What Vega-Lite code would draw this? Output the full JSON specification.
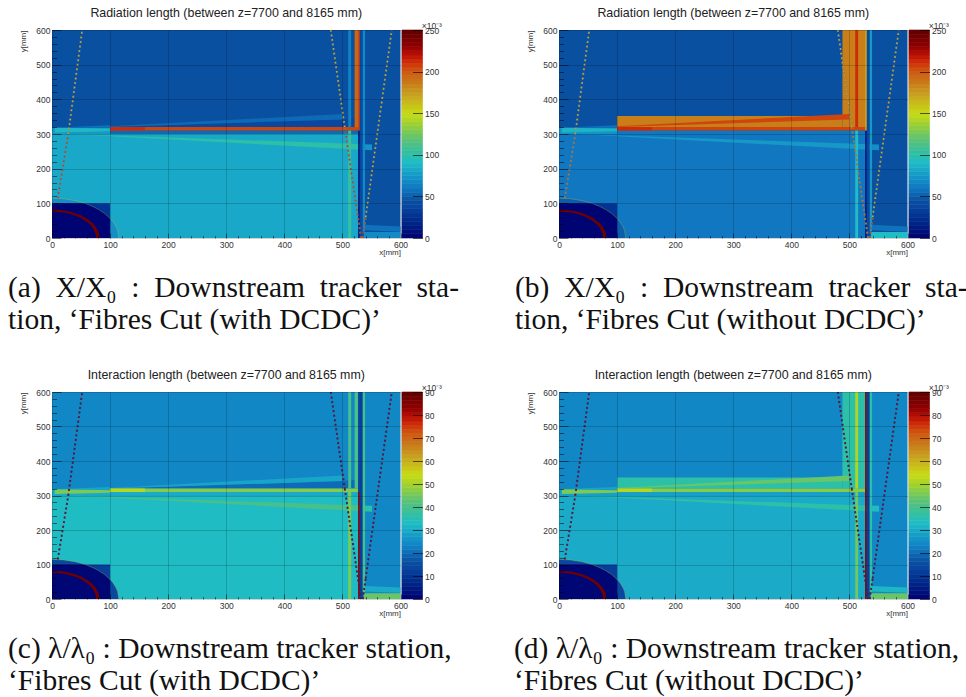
{"$schema":"https://vega.github.io/schema/vega-lite/v6.json","padding":{"left":8,"top":6,"right":0,"bottom":0},"background":"white",
"config":{"view":{"stroke":null},"font":"Liberation Sans","axis":{"labelFont":"Liberation Sans","titleFont":"Liberation Sans","labelColor":"#333","titleColor":"#333","labelFontSize":8.5,"titleFontSize":8,"titleFontWeight":"normal","labelFlush":false,"labelOverlap":false,"labelBound":false,"domain":false}},
"datasets":{
"back":[{"x":0,"x2":600,"y":0,"y2":600,"a":45,"b":45,"c":24,"d":24},{"x":0,"x2":527,"y":0,"y2":300,"a":82,"b":60,"c":33,"d":30},{"x":0,"x2":100,"y":300,"y2":318,"a":75,"b":72,"c":30,"d":28},{"x":100,"x2":527,"y":300,"y2":310,"a":55,"b":60,"c":30,"d":28},{"x":100,"x2":488,"y":320,"y2":352,"b":185,"d":36},{"x":488,"x2":530,"y":320,"y2":600,"b":185,"d":36}],
"wedge":[{"id":"w1","x":30,"y":300,"y2":300,"a":100,"b":75,"c":40,"d":36},{"id":"w1","x":527,"y":271.3,"y2":255,"a":100,"b":75,"c":40,"d":36},{"id":"w7","x":527,"y":271.3,"y2":255,"a":72,"b":70,"c":36,"d":33},{"id":"w7","x":551,"y":270,"y2":253,"a":72,"b":70,"c":36,"d":33},{"id":"w3","x":100,"y":320,"y2":320,"a":38,"c":20},{"id":"w3","x":500,"y":342,"y2":320,"a":38,"c":20},{"id":"w3","x":522,"y":345,"y2":320,"a":38,"c":20},{"id":"w2","x":100,"y":322,"y2":320,"a":55,"b":205,"c":29,"d":44},{"id":"w2","x":500,"y":358,"y2":342,"a":55,"b":205,"c":29,"d":44},{"id":"w5","x":0,"y":318,"y2":318,"a":58,"b":58,"c":29,"d":29},{"id":"w5","x":100,"y":325,"y2":318,"a":58,"b":58,"c":29,"d":29},{"id":"w4","x":5,"y":318,"y2":304,"a":90,"b":88,"c":46,"d":46},{"id":"w4","x":100,"y":315,"y2":308,"a":90,"b":88,"c":46,"d":46},{"id":"w6","x":537,"y":38,"y2":22,"a":58,"b":58,"c":30,"d":32},{"id":"w6","x":600,"y":33,"y2":18,"a":58,"b":58,"c":30,"d":32}],
"front":[{"x":100,"x2":527,"y":310,"y2":320,"a":205,"b":205,"c":47,"d":47},{"x":100,"x2":160,"y":310,"y2":320,"a":212,"b":212,"c":52,"d":52},{"x":510,"x2":515,"y":320,"y2":600,"a":65,"b":212,"c":40,"d":51},{"x":510,"x2":515,"y":0,"y2":310,"a":105,"b":92,"c":46,"d":45},{"x":521,"x2":528,"y":320,"y2":600,"a":195,"c":40},{"x":527,"x2":530,"y":0,"y2":310,"a":15,"b":15,"c":84,"d":84},{"x":527,"x2":530,"y":310,"y2":600,"a":205,"b":172,"c":12,"d":84},{"x":530,"x2":535,"y":0,"y2":600,"a":40,"b":40,"c":12,"d":12},{"x":535,"x2":539,"y":20,"y2":600,"a":68,"b":75,"c":40,"d":36},{"x":537,"x2":600,"y":0,"y2":17,"a":68,"b":92,"c":44,"d":44}],
"disc":[
{"id":"d1","x":0,"y":115,"y2":0,"a":70,"b":50,"c":14,"d":14},{"id":"d1","x":20,"y":113.2,"y2":0,"a":70,"b":50,"c":14,"d":14},{"id":"d1","x":40,"y":107.8,"y2":0,"a":70,"b":50,"c":14,"d":14},{"id":"d1","x":57,"y":99.9,"y2":0,"a":70,"b":50,"c":14,"d":14},{"id":"d1","x":70,"y":91.2,"y2":0,"a":70,"b":50,"c":14,"d":14},{"id":"d1","x":80,"y":82.6,"y2":0,"a":70,"b":50,"c":14,"d":14},{"id":"d1","x":90,"y":71.6,"y2":0,"a":70,"b":50,"c":14,"d":14},{"id":"d1","x":100,"y":56.8,"y2":0,"a":70,"b":50,"c":14,"d":14},{"id":"d1","x":105,"y":46.9,"y2":0,"a":70,"b":50,"c":14,"d":14},{"id":"d1","x":110,"y":33.5,"y2":0,"a":70,"b":50,"c":14,"d":14},{"id":"d1","x":113,"y":21.4,"y2":0,"a":70,"b":50,"c":14,"d":14},{"id":"d1","x":115,"y":0,"y2":0,"a":70,"b":50,"c":14,"d":14},
{"id":"d2","x":0,"y":100,"y2":0,"a":28,"b":28,"c":12,"d":12},{"id":"d2","x":100,"y":100,"y2":0,"a":28,"b":28,"c":12,"d":12},
{"id":"d3","x":0,"y":100,"y2":0,"a":2,"b":2,"c":1,"d":1},{"id":"d3","x":57,"y":100,"y2":0,"a":2,"b":2,"c":1,"d":1},{"id":"d3","x":70,"y":91.2,"y2":0,"a":2,"b":2,"c":1,"d":1},{"id":"d3","x":80,"y":82.6,"y2":0,"a":2,"b":2,"c":1,"d":1},{"id":"d3","x":90,"y":71.6,"y2":0,"a":2,"b":2,"c":1,"d":1},{"id":"d3","x":100,"y":56.8,"y2":0,"a":2,"b":2,"c":1,"d":1},
{"id":"d4","x":0,"y":82,"y2":76,"a":245,"b":245,"c":88,"d":88},{"id":"d4","x":10,"y":81.4,"y2":75.3,"a":245,"b":245,"c":88,"d":88},{"id":"d4","x":20,"y":79.5,"y2":73.3,"a":245,"b":245,"c":88,"d":88},{"id":"d4","x":30,"y":76.3,"y2":69.8,"a":245,"b":245,"c":88,"d":88},{"id":"d4","x":40,"y":71.6,"y2":64.6,"a":245,"b":245,"c":88,"d":88},{"id":"d4","x":50,"y":65,"y2":57.2,"a":245,"b":245,"c":88,"d":88},{"id":"d4","x":60,"y":55.9,"y2":46.6,"a":245,"b":245,"c":88,"d":88},{"id":"d4","x":65,"y":50,"y2":39.4,"a":245,"b":245,"c":88,"d":88},{"id":"d4","x":70,"y":42.7,"y2":29.6,"a":245,"b":245,"c":88,"d":88},{"id":"d4","x":75,"y":33.2,"y2":12.3,"a":245,"b":245,"c":88,"d":88},{"id":"d4","x":76,"y":30,"y2":0,"a":245,"b":245,"c":88,"d":88},{"id":"d4","x":80,"y":18,"y2":0,"a":245,"b":245,"c":88,"d":88},{"id":"d4","x":82,"y":0,"y2":0,"a":245,"b":245,"c":88,"d":88}],
"arc":[{"x":0,"y":115},{"x":20,"y":113.2},{"x":40,"y":107.8},{"x":57,"y":99.9},{"x":70,"y":91.2},{"x":80,"y":82.6},{"x":90,"y":71.6},{"x":100,"y":56.8},{"x":105,"y":46.9},{"x":110,"y":33.5},{"x":113,"y":21.4},{"x":115,"y":0}],
"dots":[{"id":"l1u","x":28,"y":300,"a":165,"b":165,"c":82,"d":82},{"id":"l1u","x":52,"y":600,"a":165,"b":165,"c":82,"d":82},{"id":"l1l","x":10,"y":115,"a":210,"b":190,"c":82,"d":82},{"id":"l1l","x":28,"y":300,"a":210,"b":190,"c":82,"d":82},{"id":"l2u","x":480,"y":600,"a":165,"b":165,"c":82,"d":82},{"id":"l2u","x":504,"y":320,"a":165,"b":165,"c":82,"d":82},{"id":"l2l","x":504,"y":320,"a":210,"b":190,"c":82,"d":82},{"id":"l2l","x":532,"y":0,"a":210,"b":190,"c":82,"d":82},{"id":"l3u","x":540,"y":60,"a":165,"b":165,"c":82,"d":82},{"id":"l3u","x":585,"y":600,"a":165,"b":165,"c":82,"d":82},{"id":"l3l","x":535,"y":0,"a":210,"b":210,"c":82,"d":82},{"id":"l3l","x":540,"y":60,"a":210,"b":210,"c":82,"d":82}],
"bar250":[{"z0":0,"z1":5,"v":2.5},{"z0":5,"z1":10,"v":7.5},{"z0":10,"z1":15,"v":12.5},{"z0":15,"z1":20,"v":17.5},{"z0":20,"z1":25,"v":22.5},{"z0":25,"z1":30,"v":27.5},{"z0":30,"z1":35,"v":32.5},{"z0":35,"z1":40,"v":37.5},{"z0":40,"z1":45,"v":42.5},{"z0":45,"z1":50,"v":47.5},{"z0":50,"z1":55,"v":52.5},{"z0":55,"z1":60,"v":57.5},{"z0":60,"z1":65,"v":62.5},{"z0":65,"z1":70,"v":67.5},{"z0":70,"z1":75,"v":72.5},{"z0":75,"z1":80,"v":77.5},{"z0":80,"z1":85,"v":82.5},{"z0":85,"z1":90,"v":87.5},{"z0":90,"z1":95,"v":92.5},{"z0":95,"z1":100,"v":97.5},{"z0":100,"z1":105,"v":102.5},{"z0":105,"z1":110,"v":107.5},{"z0":110,"z1":115,"v":112.5},{"z0":115,"z1":120,"v":117.5},{"z0":120,"z1":125,"v":122.5},{"z0":125,"z1":130,"v":127.5},{"z0":130,"z1":135,"v":132.5},{"z0":135,"z1":140,"v":137.5},{"z0":140,"z1":145,"v":142.5},{"z0":145,"z1":150,"v":147.5},{"z0":150,"z1":155,"v":152.5},{"z0":155,"z1":160,"v":157.5},{"z0":160,"z1":165,"v":162.5},{"z0":165,"z1":170,"v":167.5},{"z0":170,"z1":175,"v":172.5},{"z0":175,"z1":180,"v":177.5},{"z0":180,"z1":185,"v":182.5},{"z0":185,"z1":190,"v":187.5},{"z0":190,"z1":195,"v":192.5},{"z0":195,"z1":200,"v":197.5},{"z0":200,"z1":205,"v":202.5},{"z0":205,"z1":210,"v":207.5},{"z0":210,"z1":215,"v":212.5},{"z0":215,"z1":220,"v":217.5},{"z0":220,"z1":225,"v":222.5},{"z0":225,"z1":230,"v":227.5},{"z0":230,"z1":235,"v":232.5},{"z0":235,"z1":240,"v":237.5},{"z0":240,"z1":245,"v":242.5},{"z0":245,"z1":250,"v":247.5}],
"bar90":[{"z0":0,"z1":1.8,"v":0.9},{"z0":1.8,"z1":3.6,"v":2.7},{"z0":3.6,"z1":5.4,"v":4.5},{"z0":5.4,"z1":7.2,"v":6.3},{"z0":7.2,"z1":9,"v":8.1},{"z0":9,"z1":10.8,"v":9.9},{"z0":10.8,"z1":12.6,"v":11.7},{"z0":12.6,"z1":14.4,"v":13.5},{"z0":14.4,"z1":16.2,"v":15.3},{"z0":16.2,"z1":18,"v":17.1},{"z0":18,"z1":19.8,"v":18.9},{"z0":19.8,"z1":21.6,"v":20.7},{"z0":21.6,"z1":23.4,"v":22.5},{"z0":23.4,"z1":25.2,"v":24.3},{"z0":25.2,"z1":27,"v":26.1},{"z0":27,"z1":28.8,"v":27.9},{"z0":28.8,"z1":30.6,"v":29.7},{"z0":30.6,"z1":32.4,"v":31.5},{"z0":32.4,"z1":34.2,"v":33.3},{"z0":34.2,"z1":36,"v":35.1},{"z0":36,"z1":37.8,"v":36.9},{"z0":37.8,"z1":39.6,"v":38.7},{"z0":39.6,"z1":41.4,"v":40.5},{"z0":41.4,"z1":43.2,"v":42.3},{"z0":43.2,"z1":45,"v":44.1},{"z0":45,"z1":46.8,"v":45.9},{"z0":46.8,"z1":48.6,"v":47.7},{"z0":48.6,"z1":50.4,"v":49.5},{"z0":50.4,"z1":52.2,"v":51.3},{"z0":52.2,"z1":54,"v":53.1},{"z0":54,"z1":55.8,"v":54.9},{"z0":55.8,"z1":57.6,"v":56.7},{"z0":57.6,"z1":59.4,"v":58.5},{"z0":59.4,"z1":61.2,"v":60.3},{"z0":61.2,"z1":63,"v":62.1},{"z0":63,"z1":64.8,"v":63.9},{"z0":64.8,"z1":66.6,"v":65.7},{"z0":66.6,"z1":68.4,"v":67.5},{"z0":68.4,"z1":70.2,"v":69.3},{"z0":70.2,"z1":72,"v":71.1},{"z0":72,"z1":73.8,"v":72.9},{"z0":73.8,"z1":75.6,"v":74.7},{"z0":75.6,"z1":77.4,"v":76.5},{"z0":77.4,"z1":79.2,"v":78.3},{"z0":79.2,"z1":81,"v":80.1},{"z0":81,"z1":82.8,"v":81.9},{"z0":82.8,"z1":84.6,"v":83.7},{"z0":84.6,"z1":86.4,"v":85.5},{"z0":86.4,"z1":88.2,"v":87.3},{"z0":88.2,"z1":90,"v":89.1}]
},
"resolve":{"scale":{"color":"independent","stroke":"independent"}},
"spacing":33,
"vconcat":[
{"resolve":{"scale":{"color":"independent","stroke":"independent"}},"spacing":56,"hconcat":[
{"spacing":16,"vconcat":[{"spacing":1,"bounds":"flush","hconcat":[
{"width":348.5,"height":208,"title":{"text":"Radiation length (between z=7700 and 8165 mm)","fontSize":12.4,"font":"Liberation Sans","fontWeight":"normal","color":"#222","offset":7},"resolve":{"axis":{"x":"independent","y":"independent"}},
"layer":[
{"data":{"name":"back"},"transform":[{"filter":"datum.a!=null"}],"mark":"rect","encoding":{"x":{"field":"x","type":"quantitative","scale":{"domain":[0,600],"nice":false},"axis":{"orient":"bottom","values":[0,100,200,300,400,500,600],"tickSize":-5,"labelPadding":7,"tickColor":"#000","tickOpacity":0.5,"grid":true,"gridColor":"#000","gridOpacity":0.22,"gridWidth":0.8,"zindex":1,"title":"x[mm]","titleAnchor":"end","titlePadding":0}},"x2":{"field":"x2"},"y":{"field":"y","type":"quantitative","scale":{"domain":[0,600],"nice":false},"axis":{"orient":"left","values":[0,100,200,300,400,500,600],"tickSize":-9,"labelPadding":11,"tickColor":"#000","tickOpacity":0.5,"grid":true,"gridColor":"#000","gridOpacity":0.22,"gridWidth":0.8,"zindex":1,"title":"y[mm]","titleAnchor":"end","titlePadding":8}},"y2":{"field":"y2"},"color":{"field":"a","type":"quantitative","legend":null,"scale":{"interpolate":"rgb","domain":[0,12.5,25,37.5,45,60,67.5,82.5,92.5,100,112.5,125,137.5,150,160,175,187.5,200,212.5,220,230,250],"range":["#000070","#001a80","#00308f","#0a46a0","#0a50a0","#1077c0","#1289c6","#1aa9c8","#20bec4","#2cc0a8","#4cc088","#70c860","#a0d030","#c8dc14","#c8c018","#c89a20","#c87818","#d05810","#cc2a08","#bb1005","#900000","#600000"]}}}},
{"data":{"name":"wedge"},"transform":[{"filter":"datum.a!=null"}],"mark":{"type":"area","line":false},"encoding":{"x":{"field":"x","type":"quantitative","axis":null},"y":{"field":"y","type":"quantitative","axis":null},"y2":{"field":"y2"},"detail":{"field":"id"},"color":{"field":"a","type":"quantitative","legend":null}}},
{"data":{"name":"front"},"transform":[{"filter":"datum.a!=null"}],"mark":"rect","encoding":{"x":{"field":"x","type":"quantitative","axis":null},"x2":{"field":"x2"},"y":{"field":"y","type":"quantitative","axis":null},"y2":{"field":"y2"},"color":{"field":"a","type":"quantitative","legend":null}}},
{"data":{"name":"disc"},"transform":[{"filter":"datum.a!=null"}],"mark":{"type":"area","line":false},"encoding":{"x":{"field":"x","type":"quantitative","axis":null},"y":{"field":"y","type":"quantitative","axis":null},"y2":{"field":"y2"},"detail":{"field":"id"},"color":{"field":"a","type":"quantitative","legend":null}}},
{"data":{"name":"arc"},"mark":{"type":"line","color":"#b8c040","strokeWidth":0.5,"opacity":0.7},"encoding":{"x":{"field":"x","type":"quantitative","axis":null},"y":{"field":"y","type":"quantitative","axis":null}}},
{"data":{"name":"dots"},"mark":{"type":"line","color":"#777777","strokeWidth":2,"strokeDash":[2,2.6]},"encoding":{"x":{"field":"x","type":"quantitative","axis":null},"y":{"field":"y","type":"quantitative","axis":null},"detail":{"field":"id"}}},
{"data":{"name":"dots"},"mark":{"type":"line","strokeWidth":1.3,"strokeDash":[1.3,3.3]},"encoding":{"x":{"field":"x","type":"quantitative","axis":{"orient":"bottom","values":[20,40,60,80,120,140,160,180,220,240,260,280,320,340,360,380,420,440,460,480,520,540,560,580],"labels":false,"tickSize":-2.5,"tickColor":"#000","tickOpacity":0.5,"grid":false,"zindex":1,"title":null}},"y":{"field":"y","type":"quantitative","axis":{"orient":"left","values":[20,40,60,80,120,140,160,180,220,240,260,280,320,340,360,380,420,440,460,480,520,540,560,580],"labels":false,"tickSize":-4.5,"tickColor":"#000","tickOpacity":0.5,"grid":false,"zindex":1,"title":null}},"detail":{"field":"id"},"color":{"field":"a","type":"quantitative","legend":null}}}
]},
{"width":20.5,"height":208,"title":{"text":"×10⁻³","fontSize":8.5,"font":"Liberation Sans","fontWeight":"normal","color":"#333","anchor":"start","dx":20,"offset":-4},"data":{"name":"bar250"},"mark":{"type":"rect","strokeWidth":0.6},"encoding":{"y":{"field":"z0","type":"quantitative","scale":{"domain":[0,250],"nice":false},"axis":{"orient":"right","values":[0,50,100,150,200,250],"tickSize":-10,"labelPadding":12,"tickColor":"#000","tickOpacity":0.6,"grid":false,"zindex":1,"title":null}},"y2":{"field":"z1"},"stroke":{"field":"v","type":"quantitative","legend":null,"scale":{"interpolate":"rgb","domain":[0,12.5,25,37.5,45,60,67.5,82.5,92.5,100,112.5,125,137.5,150,160,175,187.5,200,212.5,220,230,250],"range":["#000070","#001a80","#00308f","#0a46a0","#0a50a0","#1077c0","#1289c6","#1aa9c8","#20bec4","#2cc0a8","#4cc088","#70c860","#a0d030","#c8dc14","#c8c018","#c89a20","#c87818","#d05810","#cc2a08","#bb1005","#900000","#600000"]}},"color":{"field":"v","type":"quantitative","legend":null,"scale":{"interpolate":"rgb","domain":[0,12.5,25,37.5,45,60,67.5,82.5,92.5,100,112.5,125,137.5,150,160,175,187.5,200,212.5,220,230,250],"range":["#000070","#001a80","#00308f","#0a46a0","#0a50a0","#1077c0","#1289c6","#1aa9c8","#20bec4","#2cc0a8","#4cc088","#70c860","#a0d030","#c8dc14","#c8c018","#c89a20","#c87818","#d05810","#cc2a08","#bb1005","#900000","#600000"]}}}}
]},
{"width":300,"height":32,"data":{"values":[{"line":1,"text":"(a)\u2002X/X₀\u2002:\u2002Downstream\u2002tracker\u2002sta-"},{"line":2,"text":"tion, ‘Fibres Cut (with DCDC)’"}]},"mark":{"type":"text","font":"Liberation Serif","fontSize":29.5,"align":"left","baseline":"alphabetic","color":"#111"},"encoding":{"y":{"field":"line","type":"ordinal","scale":{"type":"point","padding":0},"axis":null},"x":{"value":-44},"text":{"field":"text"}}}
]},
{"spacing":16,"vconcat":[{"spacing":1,"bounds":"flush","hconcat":[
{"width":348.5,"height":208,"title":{"text":"Radiation length (between z=7700 and 8165 mm)","fontSize":12.4,"font":"Liberation Sans","fontWeight":"normal","color":"#222","offset":7},"resolve":{"axis":{"x":"independent","y":"independent"}},
"layer":[
{"data":{"name":"back"},"transform":[{"filter":"datum.b!=null"}],"mark":"rect","encoding":{"x":{"field":"x","type":"quantitative","scale":{"domain":[0,600],"nice":false},"axis":{"orient":"bottom","values":[0,100,200,300,400,500,600],"tickSize":-5,"labelPadding":7,"tickColor":"#000","tickOpacity":0.5,"grid":true,"gridColor":"#000","gridOpacity":0.22,"gridWidth":0.8,"zindex":1,"title":"x[mm]","titleAnchor":"end","titlePadding":0}},"x2":{"field":"x2"},"y":{"field":"y","type":"quantitative","scale":{"domain":[0,600],"nice":false},"axis":{"orient":"left","values":[0,100,200,300,400,500,600],"tickSize":-9,"labelPadding":11,"tickColor":"#000","tickOpacity":0.5,"grid":true,"gridColor":"#000","gridOpacity":0.22,"gridWidth":0.8,"zindex":1,"title":"y[mm]","titleAnchor":"end","titlePadding":8}},"y2":{"field":"y2"},"color":{"field":"b","type":"quantitative","legend":null,"scale":{"interpolate":"rgb","domain":[0,12.5,25,37.5,45,60,67.5,82.5,92.5,100,112.5,125,137.5,150,160,175,187.5,200,212.5,220,230,250],"range":["#000070","#001a80","#00308f","#0a46a0","#0a50a0","#1077c0","#1289c6","#1aa9c8","#20bec4","#2cc0a8","#4cc088","#70c860","#a0d030","#c8dc14","#c8c018","#c89a20","#c87818","#d05810","#cc2a08","#bb1005","#900000","#600000"]}}}},
{"data":{"name":"wedge"},"transform":[{"filter":"datum.b!=null"}],"mark":{"type":"area","line":false},"encoding":{"x":{"field":"x","type":"quantitative","axis":null},"y":{"field":"y","type":"quantitative","axis":null},"y2":{"field":"y2"},"detail":{"field":"id"},"color":{"field":"b","type":"quantitative","legend":null}}},
{"data":{"name":"front"},"transform":[{"filter":"datum.b!=null"}],"mark":"rect","encoding":{"x":{"field":"x","type":"quantitative","axis":null},"x2":{"field":"x2"},"y":{"field":"y","type":"quantitative","axis":null},"y2":{"field":"y2"},"color":{"field":"b","type":"quantitative","legend":null}}},
{"data":{"name":"disc"},"transform":[{"filter":"datum.b!=null"}],"mark":{"type":"area","line":false},"encoding":{"x":{"field":"x","type":"quantitative","axis":null},"y":{"field":"y","type":"quantitative","axis":null},"y2":{"field":"y2"},"detail":{"field":"id"},"color":{"field":"b","type":"quantitative","legend":null}}},
{"data":{"name":"arc"},"mark":{"type":"line","color":"#b8c040","strokeWidth":0.5,"opacity":0.7},"encoding":{"x":{"field":"x","type":"quantitative","axis":null},"y":{"field":"y","type":"quantitative","axis":null}}},
{"data":{"name":"dots"},"mark":{"type":"line","color":"#777777","strokeWidth":2,"strokeDash":[2,2.6]},"encoding":{"x":{"field":"x","type":"quantitative","axis":null},"y":{"field":"y","type":"quantitative","axis":null},"detail":{"field":"id"}}},
{"data":{"name":"dots"},"mark":{"type":"line","strokeWidth":1.3,"strokeDash":[1.3,3.3]},"encoding":{"x":{"field":"x","type":"quantitative","axis":{"orient":"bottom","values":[20,40,60,80,120,140,160,180,220,240,260,280,320,340,360,380,420,440,460,480,520,540,560,580],"labels":false,"tickSize":-2.5,"tickColor":"#000","tickOpacity":0.5,"grid":false,"zindex":1,"title":null}},"y":{"field":"y","type":"quantitative","axis":{"orient":"left","values":[20,40,60,80,120,140,160,180,220,240,260,280,320,340,360,380,420,440,460,480,520,540,560,580],"labels":false,"tickSize":-4.5,"tickColor":"#000","tickOpacity":0.5,"grid":false,"zindex":1,"title":null}},"detail":{"field":"id"},"color":{"field":"b","type":"quantitative","legend":null}}}
]},
{"width":20.5,"height":208,"title":{"text":"×10⁻³","fontSize":8.5,"font":"Liberation Sans","fontWeight":"normal","color":"#333","anchor":"start","dx":20,"offset":-4},"data":{"name":"bar250"},"mark":{"type":"rect","strokeWidth":0.6},"encoding":{"y":{"field":"z0","type":"quantitative","scale":{"domain":[0,250],"nice":false},"axis":{"orient":"right","values":[0,50,100,150,200,250],"tickSize":-10,"labelPadding":12,"tickColor":"#000","tickOpacity":0.6,"grid":false,"zindex":1,"title":null}},"y2":{"field":"z1"},"stroke":{"field":"v","type":"quantitative","legend":null,"scale":{"interpolate":"rgb","domain":[0,12.5,25,37.5,45,60,67.5,82.5,92.5,100,112.5,125,137.5,150,160,175,187.5,200,212.5,220,230,250],"range":["#000070","#001a80","#00308f","#0a46a0","#0a50a0","#1077c0","#1289c6","#1aa9c8","#20bec4","#2cc0a8","#4cc088","#70c860","#a0d030","#c8dc14","#c8c018","#c89a20","#c87818","#d05810","#cc2a08","#bb1005","#900000","#600000"]}},"color":{"field":"v","type":"quantitative","legend":null,"scale":{"interpolate":"rgb","domain":[0,12.5,25,37.5,45,60,67.5,82.5,92.5,100,112.5,125,137.5,150,160,175,187.5,200,212.5,220,230,250],"range":["#000070","#001a80","#00308f","#0a46a0","#0a50a0","#1077c0","#1289c6","#1aa9c8","#20bec4","#2cc0a8","#4cc088","#70c860","#a0d030","#c8dc14","#c8c018","#c89a20","#c87818","#d05810","#cc2a08","#bb1005","#900000","#600000"]}}}}
]},
{"width":300,"height":32,"data":{"values":[{"line":1,"text":"(b)\u2002X/X₀\u2002:\u2002Downstream\u2002tracker\u2002sta-"},{"line":2,"text":"tion, ‘Fibres Cut (without DCDC)’"}]},"mark":{"type":"text","font":"Liberation Serif","fontSize":29.5,"align":"left","baseline":"alphabetic","color":"#111"},"encoding":{"y":{"field":"line","type":"ordinal","scale":{"type":"point","padding":0},"axis":null},"x":{"value":-44},"text":{"field":"text"}}}
]}
]},
{"resolve":{"scale":{"color":"independent","stroke":"independent"}},"spacing":62,"hconcat":[
{"spacing":16,"vconcat":[{"spacing":1,"bounds":"flush","hconcat":[
{"width":348.5,"height":207,"title":{"text":"Interaction length (between z=7700 and 8165 mm)","fontSize":12.4,"font":"Liberation Sans","fontWeight":"normal","color":"#222","offset":7},"resolve":{"axis":{"x":"independent","y":"independent"}},
"layer":[
{"data":{"name":"back"},"transform":[{"filter":"datum.c!=null"}],"mark":"rect","encoding":{"x":{"field":"x","type":"quantitative","scale":{"domain":[0,600],"nice":false},"axis":{"orient":"bottom","values":[0,100,200,300,400,500,600],"tickSize":-5,"labelPadding":7,"tickColor":"#000","tickOpacity":0.5,"grid":true,"gridColor":"#000","gridOpacity":0.22,"gridWidth":0.8,"zindex":1,"title":"x[mm]","titleAnchor":"end","titlePadding":0}},"x2":{"field":"x2"},"y":{"field":"y","type":"quantitative","scale":{"domain":[0,600],"nice":false},"axis":{"orient":"left","values":[0,100,200,300,400,500,600],"tickSize":-9,"labelPadding":11,"tickColor":"#000","tickOpacity":0.5,"grid":true,"gridColor":"#000","gridOpacity":0.22,"gridWidth":0.8,"zindex":1,"title":"y[mm]","titleAnchor":"end","titlePadding":8}},"y2":{"field":"y2"},"color":{"field":"c","type":"quantitative","legend":null,"scale":{"interpolate":"rgb","domain":[0,4.5,9,13.5,16.2,21.6,24.3,29.7,33.3,36,40.5,45,49.5,54,57.6,63,67.5,72,76.5,79.2,82.8,90],"range":["#000070","#001a80","#00308f","#0a46a0","#0a50a0","#1077c0","#1289c6","#1aa9c8","#20bec4","#2cc0a8","#4cc088","#70c860","#a0d030","#c8dc14","#c8c018","#c89a20","#c87818","#d05810","#cc2a08","#bb1005","#900000","#600000"]}}}},
{"data":{"name":"wedge"},"transform":[{"filter":"datum.c!=null"}],"mark":{"type":"area","line":false},"encoding":{"x":{"field":"x","type":"quantitative","axis":null},"y":{"field":"y","type":"quantitative","axis":null},"y2":{"field":"y2"},"detail":{"field":"id"},"color":{"field":"c","type":"quantitative","legend":null}}},
{"data":{"name":"front"},"transform":[{"filter":"datum.c!=null"}],"mark":"rect","encoding":{"x":{"field":"x","type":"quantitative","axis":null},"x2":{"field":"x2"},"y":{"field":"y","type":"quantitative","axis":null},"y2":{"field":"y2"},"color":{"field":"c","type":"quantitative","legend":null}}},
{"data":{"name":"disc"},"transform":[{"filter":"datum.c!=null"}],"mark":{"type":"area","line":false},"encoding":{"x":{"field":"x","type":"quantitative","axis":null},"y":{"field":"y","type":"quantitative","axis":null},"y2":{"field":"y2"},"detail":{"field":"id"},"color":{"field":"c","type":"quantitative","legend":null}}},
{"data":{"name":"arc"},"mark":{"type":"line","color":"#b8c040","strokeWidth":0.5,"opacity":0.7},"encoding":{"x":{"field":"x","type":"quantitative","axis":null},"y":{"field":"y","type":"quantitative","axis":null}}},
{"data":{"name":"dots"},"mark":{"type":"line","color":"#1a2a6e","strokeWidth":1.9,"strokeDash":[2,2.6],"opacity":0.9},"encoding":{"x":{"field":"x","type":"quantitative","axis":null},"y":{"field":"y","type":"quantitative","axis":null},"detail":{"field":"id"}}},
{"data":{"name":"dots"},"mark":{"type":"line","strokeWidth":1.3,"strokeDash":[1.3,3.3]},"encoding":{"x":{"field":"x","type":"quantitative","axis":{"orient":"bottom","values":[20,40,60,80,120,140,160,180,220,240,260,280,320,340,360,380,420,440,460,480,520,540,560,580],"labels":false,"tickSize":-2.5,"tickColor":"#000","tickOpacity":0.5,"grid":false,"zindex":1,"title":null}},"y":{"field":"y","type":"quantitative","axis":{"orient":"left","values":[20,40,60,80,120,140,160,180,220,240,260,280,320,340,360,380,420,440,460,480,520,540,560,580],"labels":false,"tickSize":-4.5,"tickColor":"#000","tickOpacity":0.5,"grid":false,"zindex":1,"title":null}},"detail":{"field":"id"},"color":{"field":"c","type":"quantitative","legend":null}}}
]},
{"width":20.5,"height":207,"title":{"text":"×10⁻³","fontSize":8.5,"font":"Liberation Sans","fontWeight":"normal","color":"#333","anchor":"start","dx":20,"offset":-4},"data":{"name":"bar90"},"mark":{"type":"rect","strokeWidth":0.6},"encoding":{"y":{"field":"z0","type":"quantitative","scale":{"domain":[0,90],"nice":false},"axis":{"orient":"right","values":[0,10,20,30,40,50,60,70,80,90],"tickSize":-10,"labelPadding":12,"tickColor":"#000","tickOpacity":0.6,"grid":false,"zindex":1,"title":null}},"y2":{"field":"z1"},"stroke":{"field":"v","type":"quantitative","legend":null,"scale":{"interpolate":"rgb","domain":[0,4.5,9,13.5,16.2,21.6,24.3,29.7,33.3,36,40.5,45,49.5,54,57.6,63,67.5,72,76.5,79.2,82.8,90],"range":["#000070","#001a80","#00308f","#0a46a0","#0a50a0","#1077c0","#1289c6","#1aa9c8","#20bec4","#2cc0a8","#4cc088","#70c860","#a0d030","#c8dc14","#c8c018","#c89a20","#c87818","#d05810","#cc2a08","#bb1005","#900000","#600000"]}},"color":{"field":"v","type":"quantitative","legend":null,"scale":{"interpolate":"rgb","domain":[0,4.5,9,13.5,16.2,21.6,24.3,29.7,33.3,36,40.5,45,49.5,54,57.6,63,67.5,72,76.5,79.2,82.8,90],"range":["#000070","#001a80","#00308f","#0a46a0","#0a50a0","#1077c0","#1289c6","#1aa9c8","#20bec4","#2cc0a8","#4cc088","#70c860","#a0d030","#c8dc14","#c8c018","#c89a20","#c87818","#d05810","#cc2a08","#bb1005","#900000","#600000"]}}}}
]},
{"width":300,"height":32,"data":{"values":[{"line":1,"text":"(c) λ/λ₀ : Downstream tracker station,"},{"line":2,"text":"‘Fibres Cut (with DCDC)’"}]},"mark":{"type":"text","font":"Liberation Serif","fontSize":29.5,"align":"left","baseline":"alphabetic","color":"#111"},"encoding":{"y":{"field":"line","type":"ordinal","scale":{"type":"point","padding":0},"axis":null},"x":{"value":-44},"text":{"field":"text"}}}
]},
{"spacing":16,"vconcat":[{"spacing":1,"bounds":"flush","hconcat":[
{"width":348.5,"height":207,"title":{"text":"Interaction length (between z=7700 and 8165 mm)","fontSize":12.4,"font":"Liberation Sans","fontWeight":"normal","color":"#222","offset":7},"resolve":{"axis":{"x":"independent","y":"independent"}},
"layer":[
{"data":{"name":"back"},"transform":[{"filter":"datum.d!=null"}],"mark":"rect","encoding":{"x":{"field":"x","type":"quantitative","scale":{"domain":[0,600],"nice":false},"axis":{"orient":"bottom","values":[0,100,200,300,400,500,600],"tickSize":-5,"labelPadding":7,"tickColor":"#000","tickOpacity":0.5,"grid":true,"gridColor":"#000","gridOpacity":0.22,"gridWidth":0.8,"zindex":1,"title":"x[mm]","titleAnchor":"end","titlePadding":0}},"x2":{"field":"x2"},"y":{"field":"y","type":"quantitative","scale":{"domain":[0,600],"nice":false},"axis":{"orient":"left","values":[0,100,200,300,400,500,600],"tickSize":-9,"labelPadding":11,"tickColor":"#000","tickOpacity":0.5,"grid":true,"gridColor":"#000","gridOpacity":0.22,"gridWidth":0.8,"zindex":1,"title":"y[mm]","titleAnchor":"end","titlePadding":8}},"y2":{"field":"y2"},"color":{"field":"d","type":"quantitative","legend":null,"scale":{"interpolate":"rgb","domain":[0,4.5,9,13.5,16.2,21.6,24.3,29.7,33.3,36,40.5,45,49.5,54,57.6,63,67.5,72,76.5,79.2,82.8,90],"range":["#000070","#001a80","#00308f","#0a46a0","#0a50a0","#1077c0","#1289c6","#1aa9c8","#20bec4","#2cc0a8","#4cc088","#70c860","#a0d030","#c8dc14","#c8c018","#c89a20","#c87818","#d05810","#cc2a08","#bb1005","#900000","#600000"]}}}},
{"data":{"name":"wedge"},"transform":[{"filter":"datum.d!=null"}],"mark":{"type":"area","line":false},"encoding":{"x":{"field":"x","type":"quantitative","axis":null},"y":{"field":"y","type":"quantitative","axis":null},"y2":{"field":"y2"},"detail":{"field":"id"},"color":{"field":"d","type":"quantitative","legend":null}}},
{"data":{"name":"front"},"transform":[{"filter":"datum.d!=null"}],"mark":"rect","encoding":{"x":{"field":"x","type":"quantitative","axis":null},"x2":{"field":"x2"},"y":{"field":"y","type":"quantitative","axis":null},"y2":{"field":"y2"},"color":{"field":"d","type":"quantitative","legend":null}}},
{"data":{"name":"disc"},"transform":[{"filter":"datum.d!=null"}],"mark":{"type":"area","line":false},"encoding":{"x":{"field":"x","type":"quantitative","axis":null},"y":{"field":"y","type":"quantitative","axis":null},"y2":{"field":"y2"},"detail":{"field":"id"},"color":{"field":"d","type":"quantitative","legend":null}}},
{"data":{"name":"arc"},"mark":{"type":"line","color":"#b8c040","strokeWidth":0.5,"opacity":0.7},"encoding":{"x":{"field":"x","type":"quantitative","axis":null},"y":{"field":"y","type":"quantitative","axis":null}}},
{"data":{"name":"dots"},"mark":{"type":"line","color":"#1a2a6e","strokeWidth":1.9,"strokeDash":[2,2.6],"opacity":0.9},"encoding":{"x":{"field":"x","type":"quantitative","axis":null},"y":{"field":"y","type":"quantitative","axis":null},"detail":{"field":"id"}}},
{"data":{"name":"dots"},"mark":{"type":"line","strokeWidth":1.3,"strokeDash":[1.3,3.3]},"encoding":{"x":{"field":"x","type":"quantitative","axis":{"orient":"bottom","values":[20,40,60,80,120,140,160,180,220,240,260,280,320,340,360,380,420,440,460,480,520,540,560,580],"labels":false,"tickSize":-2.5,"tickColor":"#000","tickOpacity":0.5,"grid":false,"zindex":1,"title":null}},"y":{"field":"y","type":"quantitative","axis":{"orient":"left","values":[20,40,60,80,120,140,160,180,220,240,260,280,320,340,360,380,420,440,460,480,520,540,560,580],"labels":false,"tickSize":-4.5,"tickColor":"#000","tickOpacity":0.5,"grid":false,"zindex":1,"title":null}},"detail":{"field":"id"},"color":{"field":"d","type":"quantitative","legend":null}}}
]},
{"width":20.5,"height":207,"title":{"text":"×10⁻³","fontSize":8.5,"font":"Liberation Sans","fontWeight":"normal","color":"#333","anchor":"start","dx":20,"offset":-4},"data":{"name":"bar90"},"mark":{"type":"rect","strokeWidth":0.6},"encoding":{"y":{"field":"z0","type":"quantitative","scale":{"domain":[0,90],"nice":false},"axis":{"orient":"right","values":[0,10,20,30,40,50,60,70,80,90],"tickSize":-10,"labelPadding":12,"tickColor":"#000","tickOpacity":0.6,"grid":false,"zindex":1,"title":null}},"y2":{"field":"z1"},"stroke":{"field":"v","type":"quantitative","legend":null,"scale":{"interpolate":"rgb","domain":[0,4.5,9,13.5,16.2,21.6,24.3,29.7,33.3,36,40.5,45,49.5,54,57.6,63,67.5,72,76.5,79.2,82.8,90],"range":["#000070","#001a80","#00308f","#0a46a0","#0a50a0","#1077c0","#1289c6","#1aa9c8","#20bec4","#2cc0a8","#4cc088","#70c860","#a0d030","#c8dc14","#c8c018","#c89a20","#c87818","#d05810","#cc2a08","#bb1005","#900000","#600000"]}},"color":{"field":"v","type":"quantitative","legend":null,"scale":{"interpolate":"rgb","domain":[0,4.5,9,13.5,16.2,21.6,24.3,29.7,33.3,36,40.5,45,49.5,54,57.6,63,67.5,72,76.5,79.2,82.8,90],"range":["#000070","#001a80","#00308f","#0a46a0","#0a50a0","#1077c0","#1289c6","#1aa9c8","#20bec4","#2cc0a8","#4cc088","#70c860","#a0d030","#c8dc14","#c8c018","#c89a20","#c87818","#d05810","#cc2a08","#bb1005","#900000","#600000"]}}}}
]},
{"width":300,"height":32,"data":{"values":[{"line":1,"text":"(d) λ/λ₀ : Downstream tracker station,"},{"line":2,"text":"‘Fibres Cut (without DCDC)’"}]},"mark":{"type":"text","font":"Liberation Serif","fontSize":29.5,"align":"left","baseline":"alphabetic","color":"#111"},"encoding":{"y":{"field":"line","type":"ordinal","scale":{"type":"point","padding":0},"axis":null},"x":{"value":-45},"text":{"field":"text"}}}
]}
]}
]}
